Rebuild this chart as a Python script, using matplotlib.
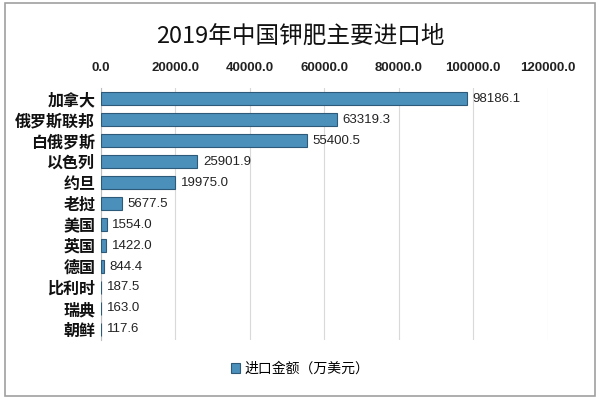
import matplotlib
matplotlib.use("Agg")
import matplotlib.pyplot as plt
from matplotlib.patches import Rectangle

plt.rcParams['font.family'] = ['Noto Sans CJK SC', 'DejaVu Sans']

# données
pays = ["加拿大", "俄罗斯联邦", "白俄罗斯", "以色列", "约旦", "老挝",
        "美国", "英国", "德国", "比利时", "瑞典", "朝鲜"]
montants = [98186.1, 63319.3, 55400.5, 25901.9, 19975.0, 5677.5,
            1554.0, 1422.0, 844.4, 187.5, 163.0, 117.6]
ticks_x = [0, 20000, 40000, 60000, 80000, 100000, 120000]

fig = plt.figure(figsize=(6, 3.99), dpi=100)
ax = fig.add_axes([0.168, 0.148, 0.745, 0.631])

y = list(range(len(pays)))
ax.barh(y, montants, height=0.6, color="#4b8fbb", edgecolor="#2c5a78",
        linewidth=0.8, label="进口金额（万美元）", zorder=3)
for yi, v in zip(y, montants):
    ax.text(v + 1500, yi, "{:.1f}".format(v), va="center", ha="left",
            fontsize=9.5, color="#222222", family=["Liberation Sans", "DejaVu Sans"])

ax.set_xlim(0, 120000)
ax.set_ylim(len(pays) - 0.5, -0.5)
ax.set_xticks(ticks_x)
ax.set_xticklabels(["{:.1f}".format(t) for t in ticks_x], fontsize=9.5,
                   color="#222222", fontweight="bold",
                   family=["Liberation Sans", "DejaVu Sans"])
ax.xaxis.tick_top()
ax.tick_params(axis="x", length=0, pad=10)
ax.set_yticks(y)
ax.set_yticklabels(pays, fontsize=11.5, fontweight="bold", color="#111111")
ax.tick_params(axis="y", length=0, pad=4)
ax.grid(axis="x", color="#d9d9d9", linewidth=0.8, zorder=0)
for s in ["top", "right", "bottom"]:
    ax.spines[s].set_visible(False)
ax.spines["left"].set_color("#bfbfbf")

fig.text(0.5, 0.91, "2019年中国钾肥主要进口地", ha="center", va="center",
         fontsize=17, color="#111111")
fig.legend(loc="center", bbox_to_anchor=(0.5, 0.075), frameon=False,
           fontsize=10, handlelength=0.7, handleheight=0.7, handletextpad=0.3)

# cadre extérieur
fig.patches.append(Rectangle((0.008, 0.008), 0.984, 0.984, transform=fig.transFigure,
                             fill=False, edgecolor="#a0a0a0", linewidth=1.2))

fig.savefig("out.png", dpi=100)
